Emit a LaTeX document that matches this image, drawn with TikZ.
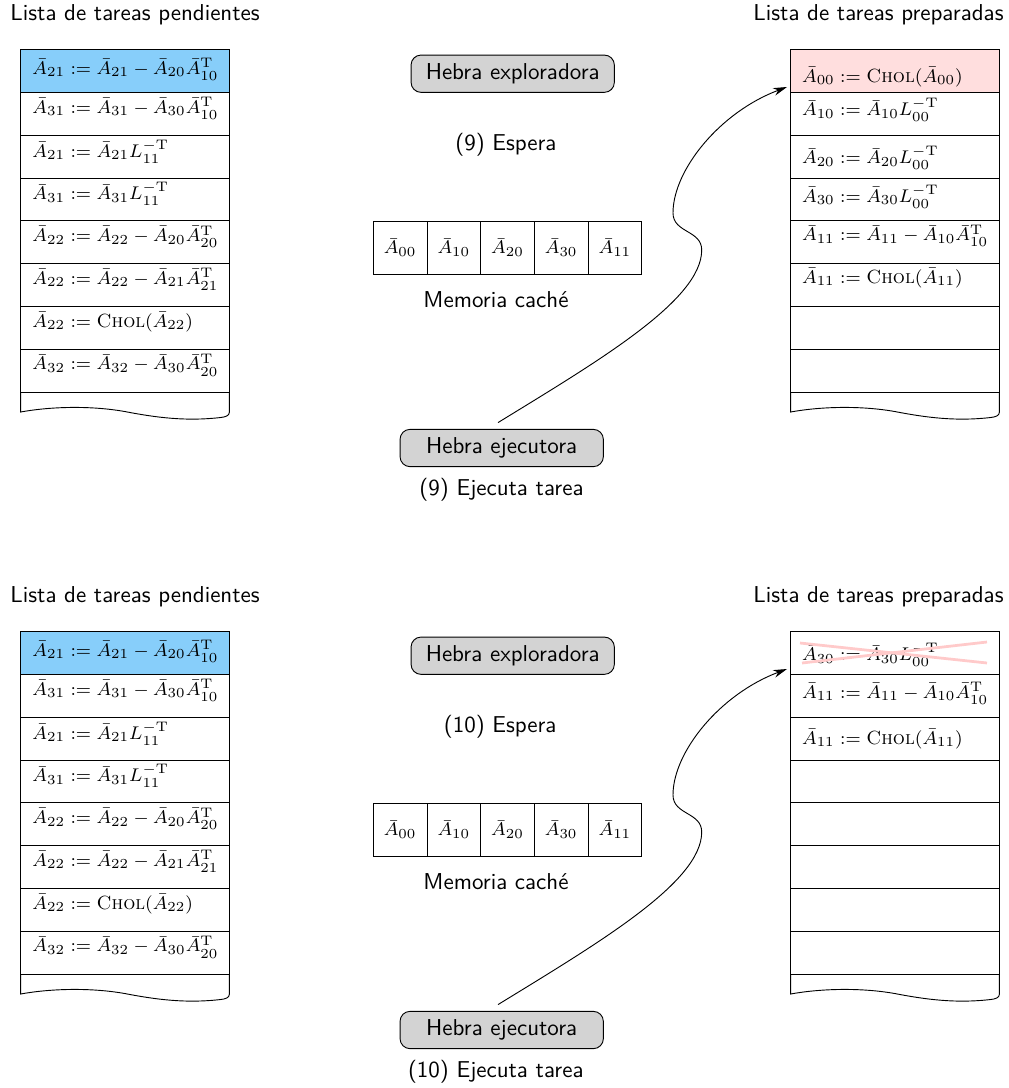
\documentclass[tikz,border=0pt]{standalone}
\usetikzlibrary{arrows.meta}
\newdimen\pxu \pxu=0.435pt
\definecolor{rowblue}{RGB}{135,206,250}
\definecolor{rowpink}{RGB}{255,222,222}
\definecolor{crosspink}{RGB}{255,202,202}
\definecolor{hebragray}{RGB}{211,211,211}
\newcommand\mfont{\fontsize{8.3}{10}\selectfont}
\tikzset{
  row/.style={draw, minimum width=208.6\pxu, minimum height=42.9\pxu, inner sep=0pt, outer sep=0pt, anchor=north west},
  txt/.style={anchor=west, inner sep=0pt, font=\mfont},
  hebra/.style={draw, fill=hebragray, rounded corners=10\pxu, minimum height=37.3\pxu, inner sep=0pt, font=\sffamily},
  lbl/.style={font=\sffamily, inner sep=0pt},
  cachecell/.style={draw, minimum width=53.7\pxu, minimum height=53.3\pxu, inner sep=0pt, outer sep=0pt, anchor=north west, font=\mfont},
  arr/.style={-{Stealth[length=6pt,width=3.4pt]}},
  crossline/.style={draw=crosspink, line width=1.2pt}
}
% wavy bottom of a list, x0 = left edge
\newcommand\listwave[1]{%
  \begin{scope}[shift={(#1,392.5)}]
    \draw (0,0) -- (0,19.5) .. controls (30,14) and (70,13) .. (104,19)
      .. controls (135,25) and (165,29) .. (200,25)
      .. controls (205,24.5) and (208.6,23) .. (208.6,20) -- (208.6,0);
  \end{scope}}
% left list and middle part (shared by both panels)
\newcommand\leftmiddle[1]{%
  \node[lbl, anchor=base west] (tpl) at (10,20) {Lista de tareas pendientes};
  \node[lbl, anchor=base east] (tpr) at (1004,20) {Lista de tareas preparadas};
  \node[row, fill=rowblue] (l1) at (20.7,49.3) {};
  \node[row] (l2) at (l1.south west) {};
  \node[row] (l3) at (l2.south west) {};
  \node[row] (l4) at (l3.south west) {};
  \node[row] (l5) at (l4.south west) {};
  \node[row] (l6) at (l5.south west) {};
  \node[row] (l7) at (l6.south west) {};
  \node[row] (l8) at (l7.south west) {};
  \listwave{20.7}
  \node[txt] (lt1) at (32,69.2) {$\bar A_{21} := \bar A_{21} - \bar A_{20}\bar A_{10}^{\mathrm T}$};
  \node[txt] (lt2) at (32,108.3) {$\bar A_{31} := \bar A_{31} - \bar A_{30}\bar A_{10}^{\mathrm T}$};
  \node[txt] (lt3) at (32,151.7) {$\bar A_{21} := \bar A_{21} L_{11}^{-\mathrm T}$};
  \node[txt] (lt4) at (32,194) {$\bar A_{31} := \bar A_{31} L_{11}^{-\mathrm T}$};
  \node[txt] (lt5) at (32,236.7) {$\bar A_{22} := \bar A_{22} - \bar A_{20}\bar A_{20}^{\mathrm T}$};
  \node[txt] (lt6) at (32,279.3) {$\bar A_{22} := \bar A_{22} - \bar A_{21}\bar A_{21}^{\mathrm T}$};
  \node[txt] (lt7) at (32,321.7) {$\bar A_{22} := \textsc{Chol}(\bar A_{22})$};
  \node[txt] (lt8) at (32,365) {$\bar A_{32} := \bar A_{32} - \bar A_{30}\bar A_{20}^{\mathrm T}$};
  % middle
  \node[hebra, minimum width=203.3\pxu] (expl) at (512.7,73.7) {Hebra exploradora};
  \node[lbl, anchor=east] (esp) at (557,145) {(#1) Espera};
  \node[cachecell] (c1) at (373.3,221) {$\bar A_{00}$};
  \node[cachecell] (c2) at (c1.north east) {$\bar A_{10}$};
  \node[cachecell] (c3) at (c2.north east) {$\bar A_{20}$};
  \node[cachecell] (c4) at (c3.north east) {$\bar A_{30}$};
  \node[cachecell] (c5) at (c4.north east) {$\bar A_{11}$};
  \node[lbl] (mem) at (496,300) {Memoria cach\'e};
  \node[hebra, minimum width=203.3\pxu] (ejec) at (501.7,448) {Hebra ejecutora};
  \node[lbl, anchor=east] (ejt) at (584,490) {(#1) Ejecuta tarea};
}
% right list rows
\newcommand\rightrows[1]{%
  \node[row, #1] (r1) at (790.7,49.3) {};
  \node[row] (r2) at (r1.south west) {};
  \node[row] (r3) at (r2.south west) {};
  \node[row] (r4) at (r3.south west) {};
  \node[row] (r5) at (r4.south west) {};
  \node[row] (r6) at (r5.south west) {};
  \node[row] (r7) at (r6.south west) {};
  \node[row] (r8) at (r7.south west) {};
  \listwave{790.7}
}
\newcommand\workarrow{%
  \draw[arr] ([shift={(-3.7,-6.3)}]ejec.north)
    .. controls (600,360) and (701.7,300) .. (701.7,250)
    .. controls (701.7,230) and (673,233) .. (673,213)
    .. controls (673,170) and (720,112) .. ([shift={(-3.7,-5.2)}]r1.south west);
}
\begin{document}
\begin{tikzpicture}[x=0.435pt, y=-0.435pt]
\useasboundingbox (0,0) rectangle (1009,1088);
% ---------------- top panel ----------------
\begin{scope}[name prefix=t-]
  \leftmiddle{9}
  \rightrows{fill=rowpink}
  \node[txt] (rt1) at (801.7,76.7) {$\bar A_{00} := \textsc{Chol}(\bar A_{00})$};
  \node[txt] (rt2) at (801.7,110) {$\bar A_{10} := \bar A_{10} L_{00}^{-\mathrm T}$};
  \node[txt] (rt3) at (801.7,158) {$\bar A_{20} := \bar A_{20} L_{00}^{-\mathrm T}$};
  \node[txt] (rt4) at (801.7,196.7) {$\bar A_{30} := \bar A_{30} L_{00}^{-\mathrm T}$};
  \node[txt] (rt5) at (801.7,235.8) {$\bar A_{11} := \bar A_{11} - \bar A_{10}\bar A_{10}^{\mathrm T}$};
  \node[txt] (rt6) at (801.7,278) {$\bar A_{11} := \textsc{Chol}(\bar A_{11})$};
  \workarrow
\end{scope}
% ---------------- bottom panel ----------------
\begin{scope}[shift={(0,582)}, name prefix=b-]
  \leftmiddle{10}
  \rightrows{}
  \node[txt] (rt1) at (801.7,73) {$\bar A_{30} := \bar A_{30} L_{00}^{-\mathrm T}$};
  \node[txt] (rt2) at (801.7,111.3) {$\bar A_{11} := \bar A_{11} - \bar A_{10}\bar A_{10}^{\mathrm T}$};
  \node[txt] (rt3) at (801.7,157) {$\bar A_{11} := \textsc{Chol}(\bar A_{11})$};
  \draw[crossline] (800,61) -- (987,81);
  \draw[crossline] (802,81) -- (987,60);
  \workarrow
\end{scope}
\end{tikzpicture}
\end{document}
